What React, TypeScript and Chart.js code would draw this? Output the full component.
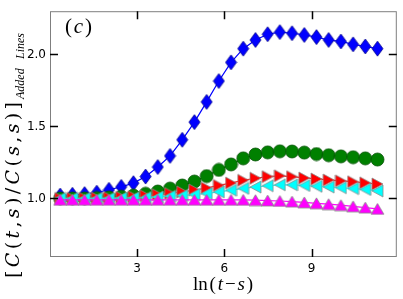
import React, { useEffect, useRef } from 'react';
import { Chart, registerables } from 'chart.js';

Chart.register(...registerables);

// ln(t - s) sample positions
const lnTimeDiff = [0.35, 0.77, 1.19, 1.61, 2.03, 2.45, 2.87, 3.29, 3.71, 4.13, 4.55, 4.97, 5.39, 5.81, 6.23, 6.65, 7.07, 7.49, 7.91, 8.33, 8.75, 9.17, 9.59, 10.01, 10.43, 10.85, 11.27];

// series values (C(t,s)/C(s,s))
const blueSeries = [1.02, 1.025, 1.03, 1.04, 1.06, 1.08, 1.106, 1.152, 1.218, 1.295, 1.407, 1.53, 1.67, 1.815, 1.945, 2.04, 2.10, 2.14, 2.155, 2.147, 2.135, 2.12, 2.10, 2.09, 2.07, 2.055, 2.04];
const greenSeries = [1.0, 1.0, 1.0, 1.003, 1.007, 1.012, 1.02, 1.032, 1.048, 1.068, 1.09, 1.117, 1.155, 1.198, 1.236, 1.278, 1.305, 1.32, 1.327, 1.326, 1.318, 1.308, 1.30, 1.292, 1.286, 1.278, 1.27];
const redSeries = [1.0, 1.0, 1.0, 1.002, 1.005, 1.008, 1.012, 1.018, 1.025, 1.034, 1.045, 1.058, 1.072, 1.09, 1.107, 1.126, 1.14, 1.151, 1.157, 1.151, 1.142, 1.135, 1.128, 1.122, 1.116, 1.108, 1.10];
const cyanSeries = [1.0, 1.0, 1.0, 1.0, 1.0, 1.002, 1.004, 1.006, 1.01, 1.015, 1.02, 1.027, 1.034, 1.045, 1.057, 1.07, 1.079, 1.088, 1.094, 1.094, 1.09, 1.084, 1.079, 1.074, 1.068, 1.062, 1.052];
const magentaSeries = [0.99, 0.99, 0.99, 0.99, 0.99, 0.99, 0.99, 0.99, 0.99, 0.99, 0.99, 0.99, 0.99, 0.99, 0.99, 0.99, 0.988, 0.985, 0.982, 0.978, 0.972, 0.966, 0.96, 0.953, 0.945, 0.936, 0.927];

// axes
const xTickValues = [3, 6, 9];
const yTickValues = [1.0, 1.5, 2.0];
const X_MIN = 0;
const X_MAX = 11.9;
const Y_MIN = 0.6;
const Y_MAX = 2.3;

// text
type Seg = { t: string; it?: boolean };
const yTitleMain: Seg[] = [
  { t: '[' }, { t: 'C', it: true }, { t: '(' }, { t: 't', it: true }, { t: ',' }, { t: 's', it: true }, { t: ')' },
  { t: '/' }, { t: 'C', it: true }, { t: '(' }, { t: 's', it: true }, { t: ',' }, { t: 's', it: true }, { t: ')' }, { t: ']' },
];
const yTitleSub: Seg[] = [{ t: 'Added', it: true }, { t: 'Lines', it: true }];
const xTitle: Seg[] = [{ t: 'ln' }, { t: '(' }, { t: 't', it: true }, { t: '\u2212' }, { t: 's', it: true }, { t: ')' }];
const panelLabel: Seg[] = [{ t: '(' }, { t: 'c', it: true }, { t: ')' }];

const SERIF = '"DejaVu Serif", "Liberation Serif", serif';
const SERIF_LIGHT = '"Liberation Serif", "DejaVu Serif", serif';

function marker(shape: string, fill: string, edge: string, lw: number): HTMLCanvasElement {
  const c = document.createElement('canvas');
  let w = 12;
  let h = 12;
  if (shape === 'diamond') { w = 11; h = 15; }
  else if (shape === 'circle') { w = 13; h = 13; }
  else if (shape === 'right' || shape === 'left') { w = 11; h = 12; }
  else if (shape === 'up') { w = 13; h = 11; }
  const pad = 1;
  c.width = w + 2 * pad;
  c.height = h + 2 * pad;
  const g = c.getContext('2d')!;
  const L = pad, T = pad, R = pad + w, B = pad + h, cx = pad + w / 2, cy = pad + h / 2;
  g.beginPath();
  if (shape === 'diamond') { g.moveTo(cx, T); g.lineTo(R, cy); g.lineTo(cx, B); g.lineTo(L, cy); }
  else if (shape === 'circle') { g.arc(cx, cy, w / 2, 0, Math.PI * 2); }
  else if (shape === 'right') { g.moveTo(L, T); g.lineTo(R, cy); g.lineTo(L, B); }
  else if (shape === 'left') { g.moveTo(R, T); g.lineTo(L, cy); g.lineTo(R, B); }
  else if (shape === 'up') { g.moveTo(cx, T); g.lineTo(R, B); g.lineTo(L, B); }
  g.closePath();
  g.fillStyle = fill;
  g.fill();
  g.lineWidth = lw;
  g.strokeStyle = edge;
  g.stroke();
  return c;
}

function drawSegs(ctx: CanvasRenderingContext2D, segs: Seg[], size: number, target: number, family: string) {
  const fontOf = (s: Seg) => `${s.it ? 'italic ' : ''}${size}px ${family}`;
  const widths = segs.map((s) => { ctx.font = fontOf(s); return ctx.measureText(s.t).width; });
  const total = widths.reduce((a, b) => a + b, 0);
  const gap = segs.length > 1 ? (target - total) / (segs.length - 1) : 0;
  let x = 0;
  segs.forEach((s, i) => {
    ctx.font = fontOf(s);
    ctx.fillText(s.t, x, 0);
    x += widths[i] + gap;
  });
}

const decorPlugin = {
  id: 'decor',
  afterDraw(chart: any) {
    const ctx: CanvasRenderingContext2D = chart.ctx;
    const { left, right, top, bottom } = chart.chartArea;
    const xs = chart.scales.x;
    const ys = chart.scales.y;
    ctx.save();
    // frame
    ctx.strokeStyle = '#7f7f7f';
    ctx.lineWidth = 1;
    ctx.strokeRect(left + 0.5, top + 0.5, right - left, bottom - top);
    // inward ticks
    ctx.strokeStyle = '#000';
    ctx.lineWidth = 1.5;
    const tl = 8;
    ctx.beginPath();
    xTickValues.forEach((v) => {
      const px = Math.round(xs.getPixelForValue(v)) + 0.5;
      ctx.moveTo(px, bottom + 1); ctx.lineTo(px, bottom + 1 - tl);
      ctx.moveTo(px, top); ctx.lineTo(px, top + tl);
    });
    yTickValues.forEach((v) => {
      const py = Math.round(ys.getPixelForValue(v)) + 0.5;
      ctx.moveTo(left, py); ctx.lineTo(left + tl, py);
      ctx.moveTo(right + 1, py); ctx.lineTo(right + 1 - tl, py);
    });
    ctx.stroke();

    ctx.fillStyle = '#000';
    ctx.textBaseline = 'alphabetic';
    ctx.textAlign = 'left';
    // panel label
    ctx.save();
    ctx.translate(65, 33);
    drawSegs(ctx, panelLabel, 21, 27, SERIF_LIGHT);
    ctx.restore();
    // x title
    ctx.save();
    ctx.translate(193, 290);
    drawSegs(ctx, xTitle, 19, 60, SERIF_LIGHT);
    ctx.restore();
    // y title
    ctx.save();
    ctx.translate(19, 278);
    ctx.rotate(-Math.PI / 2);
    drawSegs(ctx, yTitleMain, 19, 176, SERIF);
    ctx.translate(179, 5);
    drawSegs(ctx, yTitleSub, 12, 66, SERIF_LIGHT);
    ctx.restore();
    ctx.restore();
  },
};

export default function App() {
  const ref = useRef<HTMLCanvasElement>(null);
  useEffect(() => {
    document.body.style.margin = '0';
    document.body.style.overflow = 'hidden';
    const toPts = (ys: number[]) => ys.map((y, i) => ({ x: lnTimeDiff[i], y }));
    const ds = (data: number[], color: string, style: HTMLCanvasElement, order: number) => ({
      data: toPts(data),
      borderColor: color,
      backgroundColor: color,
      borderWidth: 1.2,
      pointStyle: style,
      pointRadius: 6,
      pointHoverRadius: 6,
      order,
      clip: false as any,
    });
    const chart = new Chart(ref.current!, {
      type: 'line',
      data: {
        datasets: [
          ds(blueSeries, '#0000ff', marker('diamond', '#0000ff', '#00008b', 0.8), 5),
          ds(greenSeries, '#008000', marker('circle', '#008000', '#005000', 0.8), 4),
          ds(redSeries, '#ff0000', marker('right', '#ff0000', '#8a8a8a', 0.8), 3),
          ds(cyanSeries, '#00ffff', marker('left', '#00ffff', '#8a8a8a', 0.8), 2),
          ds(magentaSeries, '#ff00ff', marker('up', '#ff00ff', '#8a8a8a', 0.8), 1),
        ],
      },
      options: {
        responsive: false,
        animation: false,
        events: [],
        layout: { padding: { top: 4, right: 4, left: 0, bottom: 0 } },
        plugins: { legend: { display: false }, tooltip: { enabled: false }, title: { display: false } },
        scales: {
          x: {
            type: 'linear',
            min: X_MIN,
            max: X_MAX,
            grid: { display: false, drawTicks: false },
            border: { display: false },
            afterBuildTicks: (s: any) => { s.ticks = xTickValues.map((v) => ({ value: v })); },
            afterFit: (s: any) => { s.height = 43; },
            ticks: {
              padding: 6,
              maxRotation: 0,
              color: '#000',
              font: { family: '"DejaVu Sans", sans-serif', size: 12 },
              callback: (v: any) => String(v),
            },
          },
          y: {
            type: 'linear',
            min: Y_MIN,
            max: Y_MAX,
            grid: { display: false, drawTicks: false },
            border: { display: false },
            afterBuildTicks: (s: any) => { s.ticks = yTickValues.map((v) => ({ value: v })); },
            afterFit: (s: any) => { s.width = 50; },
            ticks: {
              padding: 4,
              color: '#000',
              font: { family: '"DejaVu Sans", sans-serif', size: 12 },
              callback: (v: any) => Number(v).toFixed(1),
            },
          },
        },
      },
      plugins: [decorPlugin],
    });
    return () => chart.destroy();
  }, []);
  return (
    <div style={{ width: 403, height: 299, position: 'relative' }}>
      <canvas ref={ref} width={403} height={299} style={{ display: 'block' }} />
    </div>
  );
}
